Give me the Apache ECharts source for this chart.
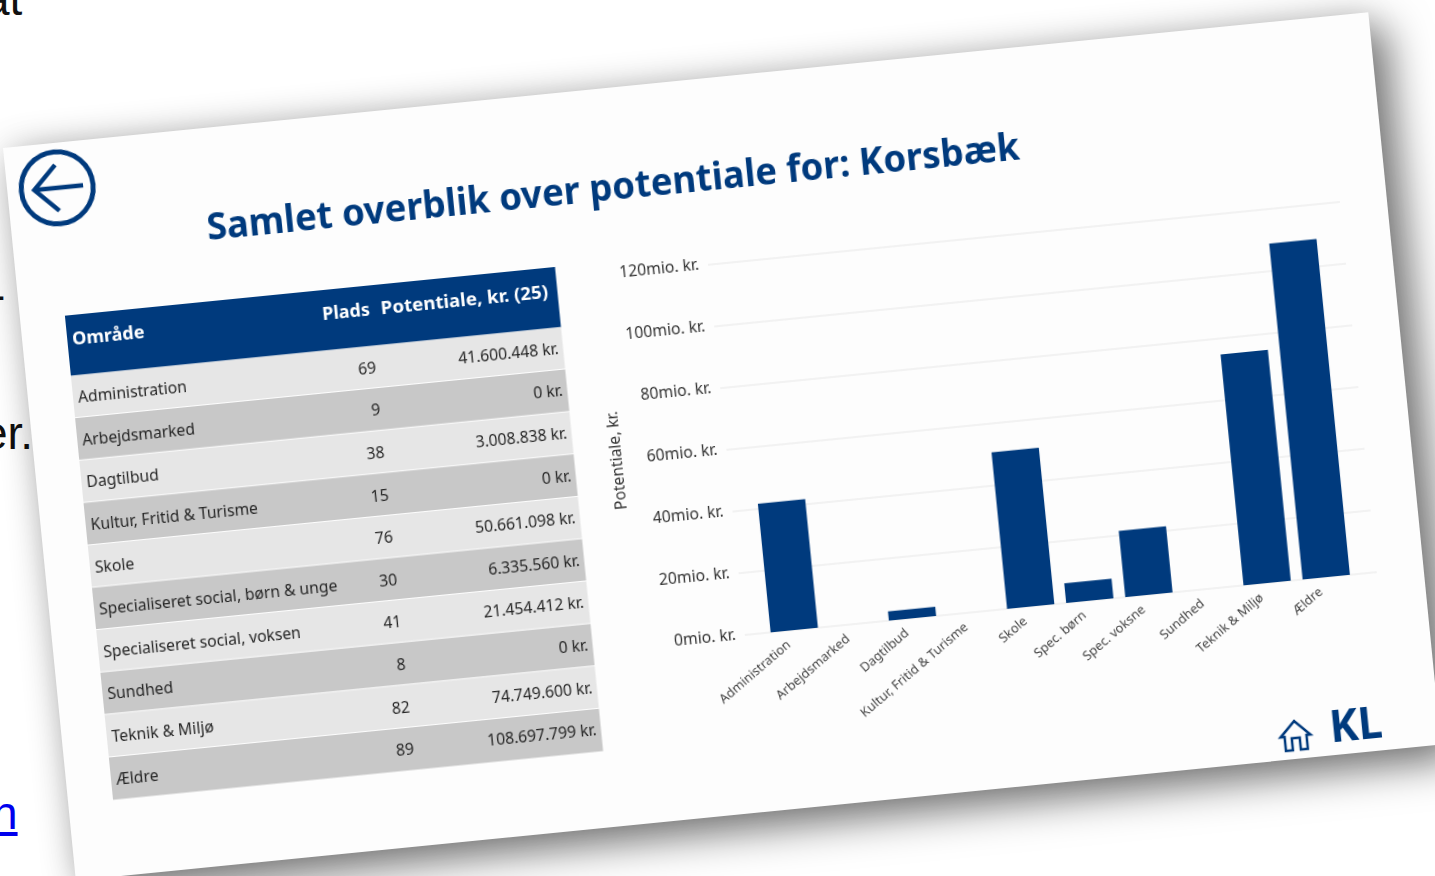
<!DOCTYPE html>
<html lang="da"><head><meta charset="utf-8">
<script src="https://cdn.jsdelivr.net/npm/echarts@6/dist/echarts.min.js"></script>
<style>
html,body{margin:0;padding:0;width:1435px;height:876px;overflow:hidden;background:#fff}
.bg{position:absolute;font-family:"Liberation Sans",sans-serif;font-size:46px;color:#111;line-height:1}
#slide{position:absolute;left:3px;top:148px;width:1372px;height:736px;background:#fdfdfd;
transform-origin:0 0;transform:rotate(-5.68deg);box-shadow:16px 16px 42px rgba(0,0,0,.52),0 0 34px rgba(0,0,0,.12)}
#chart{width:1372px;height:736px}
</style></head><body>
<div class="bg" style="left:-16px;top:-24px">at</div>
<div class="bg" style="left:-10px;top:272px">-</div>
<div class="bg" style="left:-18px;top:410px">er.</div>
<div class="bg" style="left:-8px;top:790px;color:#0000ee;text-decoration:underline">n</div>
<div id="slide"><div id="chart"></div></div>
<script>
const titleText = 'Samlet overblik over potentiale for: Korsbæk';
const tableHeader = ['Område', 'Plads', 'Potentiale, kr. (25)'];
const areas = ['Administration','Arbejdsmarked','Dagtilbud','Kultur, Fritid & Turisme','Skole','Specialiseret social, børn & unge','Specialiseret social, voksen','Sundhed','Teknik & Miljø','Ældre'];
const ranks = [69,9,38,15,76,30,41,8,82,89];
const potentials = ['41.600.448 kr.','0 kr.','3.008.838 kr.','0 kr.','50.661.098 kr.','6.335.560 kr.','21.454.412 kr.','0 kr.','74.749.600 kr.','108.697.799 kr.'];
const chartCategories = ['Administration','Arbejdsmarked','Dagtilbud','Kultur, Fritid & Turisme','Skole','Spec. børn','Spec. voksne','Sundhed','Teknik & Miljø','Ældre'];
const chartValues = [41600448,0,3008838,0,50661098,6335560,21454412,0,74749600,108697799];
const axisName = 'Potentiale, kr.';

const NAVY = '#003a7d', FONT = '"Noto Sans","Open Sans",sans-serif';
const T = {x:45, y:173, w:492.5, head:60.5, row:42.6};
const g = [];
g.push({type:'rect',shape:{x:T.x,y:T.y,width:T.w,height:T.head},style:{fill:NAVY}});
const txt = (x,y,text,font,fill,align,sx) => ({type:'text',x,y,scaleX:sx||1,style:{text,font,fill,align,verticalAlign:'middle'}});
const headFont = 'bold 18px '+FONT, bodyFont = '15.7px '+FONT;
g.push(txt(T.x+5,T.y+25,tableHeader[0],headFont,'#fff','left'));
g.push(txt(T.x+304,T.y+25,tableHeader[1],headFont,'#fff','right'));
g.push(txt(T.x+483,T.y+25,tableHeader[2],headFont,'#fff','right',1.04));
areas.forEach((a,i)=>{
  const y = T.y+T.head+i*T.row;
  g.push({type:'rect',shape:{x:T.x,y:y,width:T.w,height:T.row-(i<areas.length-1?1:0)},style:{fill:i%2?'#c8c8c8':'#e6e6e6'}});
  g.push(txt(T.x+5,y+T.row/2+2,a,bodyFont,'#262626','left'));
  g.push(txt(T.x+304.5,y+T.row/2+1.5,String(ranks[i]),bodyFont,'#262626','right'));
  g.push(txt(T.x+488,y+T.row/2+0.5,potentials[i],bodyFont,'#262626','right'));
});
g.push({type:'text',x:195,y:120,scaleX:.987,style:{text:titleText,font:'bold 37px '+FONT,fill:NAVY,align:'left',verticalAlign:'bottom'},id:'title'});
// back arrow
g.push({type:'circle',shape:{cx:50,cy:45,r:36},style:{fill:'none',stroke:NAVY,lineWidth:5}});
g.push({type:'polyline',shape:{points:[[76,45],[27,45]]},style:{stroke:NAVY,lineWidth:4.5,fill:'none'}});
g.push({type:'polyline',shape:{points:[[50,22],[27,45],[50,68]]},style:{stroke:NAVY,lineWidth:4.5,fill:'none'}});
// home icon
g.push({type:'polygon',x:1228,y:713,shape:{points:[[-15,0],[0,-15],[15,0],[11,0],[11,14],[4,14],[4,2],[-4,2],[-4,14],[-11,14],[-11,0]]},style:{fill:'none',stroke:NAVY,lineWidth:2.5}});
g.push(txt(1289,710,'KL','bold 44px '+FONT,NAVY,'center',.98));

const chart = echarts.init(document.getElementById('chart'));
chart.setOption({
  animation:false,
  graphic:{elements:g},
  grid:[{left:690,top:185.5,width:635,height:372.5},{left:710,top:185.5,width:594,height:372.5}],
  xAxis:[
    {gridIndex:0,type:'category',data:chartCategories,show:false},
    {gridIndex:1,type:'category',data:chartCategories,axisLine:{show:false},axisTick:{show:false},
     axisLabel:{rotate:35,interval:0,margin:8,fontSize:12.8,fontFamily:FONT,color:'#444',padding:[0,8,0,0]}}
  ],
  yAxis:[
    {gridIndex:0,type:'value',min:0,max:120000000,interval:20000000,axisLine:{show:false},axisTick:{show:false},
     splitLine:{lineStyle:{color:'#eeeeee',width:1.5}},
     axisLabel:{margin:9,fontSize:15.7,fontFamily:FONT,color:'#333',padding:[3,0,0,0],formatter:v=>(v/1e6)+'mio. kr.'},
     name:axisName,nameLocation:'middle',nameGap:101,nameRotate:90,nameTextStyle:{fontSize:15.6,fontFamily:FONT,color:'#333'}},
    {gridIndex:1,type:'value',min:0,max:120000000,interval:20000000,show:false}
  ],
  series:[{type:'bar',xAxisIndex:1,yAxisIndex:1,data:chartValues,barWidth:'80%',itemStyle:{color:NAVY}}]
});
</script></body></html>
